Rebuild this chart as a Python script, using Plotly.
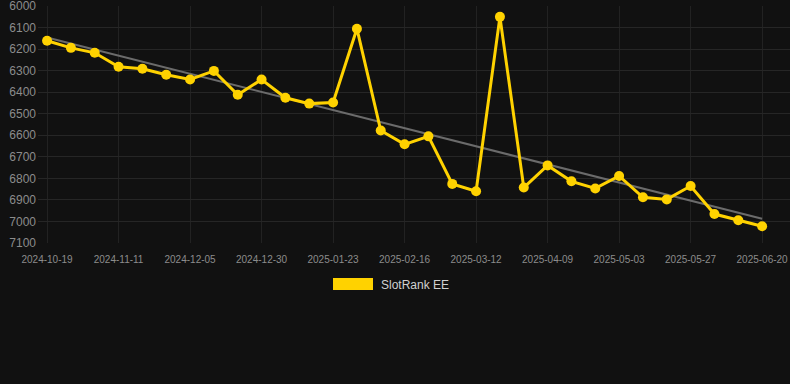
import plotly.graph_objects as go

dates = ["2024-10-19", "2024-10-27", "2024-11-03", "2024-11-11", "2024-11-19", "2024-11-27",
         "2024-12-05", "2024-12-13", "2024-12-21", "2024-12-30", "2025-01-07", "2025-01-15",
         "2025-01-23", "2025-01-31", "2025-02-08", "2025-02-16", "2025-02-24", "2025-03-04",
         "2025-03-12", "2025-03-21", "2025-03-30", "2025-04-09", "2025-04-17", "2025-04-25",
         "2025-05-03", "2025-05-11", "2025-05-19", "2025-05-27", "2025-06-04", "2025-06-12",
         "2025-06-20"]
rank_ee = [6161, 6194, 6217, 6282, 6291, 6319, 6341, 6301, 6412, 6341, 6426, 6453, 6448, 6105,
           6578, 6642, 6605, 6826, 6860, 6050, 6843, 6740, 6814, 6847, 6789, 6888, 6898, 6836,
           6966, 6995, 7023]
trend_dates = [dates[0], dates[-1]]
trend_values = [6146, 6988]
tick_labels = dates[::3]
y_ticks = [6000, 6100, 6200, 6300, 6400, 6500, 6600, 6700, 6800, 6900, 7000, 7100]

YELLOW = "#FFD200"
BG = "#111111"
FONT = "Liberation Sans, Arial, sans-serif"

fig = go.Figure()
fig.add_trace(go.Scatter(x=trend_dates, y=trend_values, mode="lines",
                         line=dict(color="#6b6b6b", width=2), showlegend=False,
                         hoverinfo="skip"))
fig.add_trace(go.Scatter(x=dates, y=rank_ee, mode="lines+markers", name="SlotRank EE",
                         line=dict(color=YELLOW, width=3),
                         marker=dict(color=YELLOW, size=10), showlegend=False))

fig.update_layout(
    width=790, height=384,
    margin=dict(l=38, r=0, t=6, b=141),
    paper_bgcolor=BG, plot_bgcolor=BG,
    font=dict(family=FONT, color="#8c8c8c"),
    hovermode=False,
)
fig.update_xaxes(type="category", categoryorder="array", categoryarray=dates,
                 range=[-0.38, 31.17], tickmode="array", tickvals=tick_labels,
                 ticktext=tick_labels, showgrid=True, gridcolor="#222222", gridwidth=1,
                 zeroline=False, showline=False, ticks="", tickfont=dict(size=10, color="#8c8c8c"),
                 tickangle=0, ticklabelstandoff=9)
fig.update_yaxes(range=[7100.5, 5999.5], tickmode="array", tickvals=y_ticks,
                 showgrid=True, gridcolor="#262626", gridwidth=1, zeroline=False,
                 showline=False, ticks="", tickfont=dict(size=12, color="#8c8c8c"),
                 ticklabelstandoff=1, ticklabeloverflow="allow")

# legend drawn manually
fig.add_shape(type="rect", xref="paper", yref="paper",
              x0=(333 - 38) / 752, x1=(373 - 38) / 752,
              y0=(243 - 290) / 237, y1=(243 - 278) / 237,
              fillcolor=YELLOW, line=dict(width=0))
fig.add_annotation(xref="paper", yref="paper", x=(379 - 38) / 752, y=(243 - 284.5) / 237,
                   text="SlotRank EE", showarrow=False, xanchor="left", yanchor="middle",
                   font=dict(size=12, color="#d0d0d0", family=FONT))

fig.write_html("out.html", config={"displayModeBar": False},
               post_script="document.body.style.margin='0';document.body.style.background='#111111';")
